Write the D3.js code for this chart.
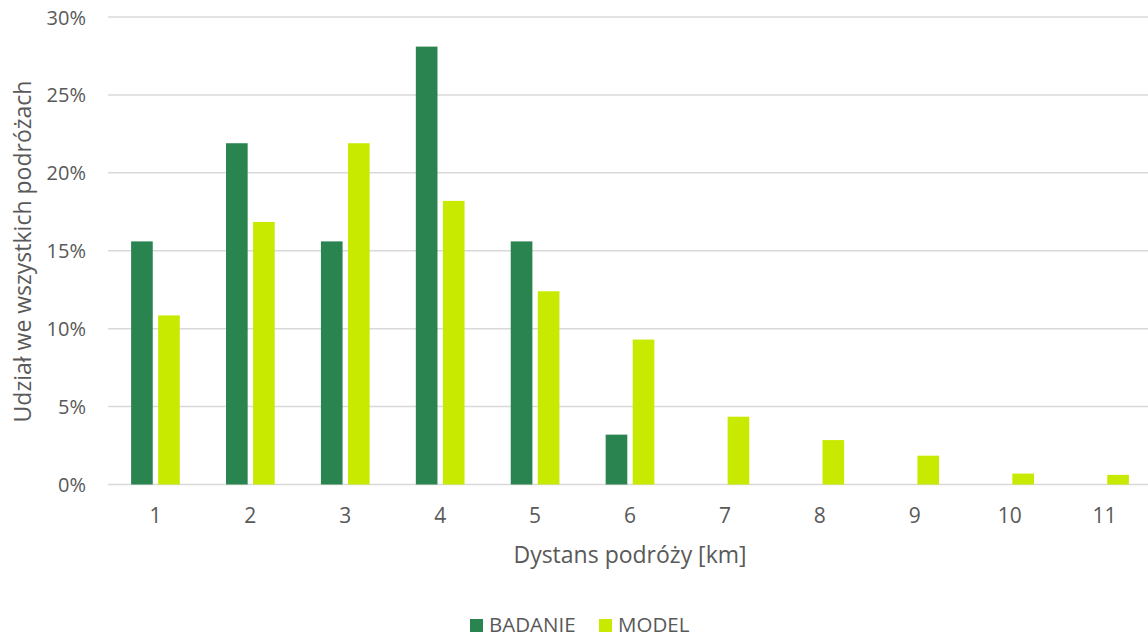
<!DOCTYPE html>
<html>
<head>
<meta charset="utf-8">
<script src="https://cdn.jsdelivr.net/npm/d3@7"></script>
<style>
  html, body { margin: 0; padding: 0; background: #fff; }
  svg { display: block; font-family: "Open Sans", sans-serif; }
</style>
</head>
<body>
<svg id="chart" width="1148" height="639"></svg>
<script>
const categories = ["1", "2", "3", "4", "5", "6", "7", "8", "9", "10", "11"];
const seriesNames = ["BADANIE", "MODEL"];
const badanie = [15.6, 21.9, 15.6, 28.1, 15.6, 3.2, 0, 0, 0, 0, 0];
const model = [10.85, 16.85, 21.9, 18.2, 12.4, 9.3, 4.35, 2.85, 1.85, 0.7, 0.62];
const yTicks = [0, 5, 10, 15, 20, 25, 30];
const colors = ["#2A8450", "#C8E900"];
const xTitle = "Dystans podróży [km]";
const yTitle = "Udział we wszystkich podróżach";

const svg = d3.select("#chart");
const textColor = "#595959";
const gridColor = "#D9D9D9";

const x = d3.scaleBand().domain(categories).range([108, 1152]).padding(0);
const x1 = d3.scaleBand().domain(seriesNames)
  .range([x.bandwidth() * 0.2435, x.bandwidth() * 0.7565]).paddingInner(0.2);
const y = d3.scaleLinear().domain([0, 30]).range([484.5, 17]);

// gridlines
svg.append("g").selectAll("line").data(yTicks).join("line")
  .attr("x1", 108).attr("x2", 1148)
  .attr("y1", d => y(d)).attr("y2", d => y(d))
  .attr("stroke", gridColor).attr("stroke-width", 1.5);

// y tick labels
svg.append("g").selectAll("text").data(yTicks).join("text")
  .attr("x", 86).attr("y", d => y(d))
  .attr("text-anchor", "end").attr("dominant-baseline", "central")
  .attr("fill", textColor).attr("font-size", 20)
  .text(d => d + "%");

// bars
const rows = categories.map((c, i) => ({ cat: c, values: [badanie[i], model[i]] }));
const groups = svg.append("g").selectAll("g").data(rows).join("g")
  .attr("transform", d => `translate(${x(d.cat)},0)`);
groups.selectAll("rect").data(d => d.values.map((v, j) => ({ s: seriesNames[j], v, j })))
  .join("rect")
  .attr("x", d => x1(d.s)).attr("width", x1.bandwidth())
  .attr("y", d => y(d.v)).attr("height", d => y(0) - y(d.v))
  .attr("fill", d => colors[d.j]);

// x tick labels
svg.append("g").selectAll("text").data(categories).join("text")
  .attr("x", d => x(d) + x.bandwidth() / 2).attr("y", 523)
  .attr("text-anchor", "middle").attr("fill", textColor).attr("font-size", 21)
  .text(d => d);

// axis titles
svg.append("text").attr("x", 630).attr("y", 563)
  .attr("text-anchor", "middle").attr("fill", textColor).attr("font-size", 23)
  .text(xTitle);
svg.append("text").attr("transform", "translate(31,251.5) rotate(-90)")
  .attr("text-anchor", "middle").attr("fill", textColor).attr("font-size", 23)
  .text(yTitle);

// legend
const legendX = [470, 599];
const lg = svg.append("g").selectAll("g").data(seriesNames).join("g")
  .attr("transform", (d, i) => `translate(${legendX[i]},619)`);
lg.append("rect").attr("width", 13).attr("height", 13).attr("fill", (d, i) => colors[i]);
lg.append("text").attr("x", 19).attr("y", 13).attr("fill", textColor).attr("font-size", 20.5)
  .text(d => d);
</script>
</body>
</html>
